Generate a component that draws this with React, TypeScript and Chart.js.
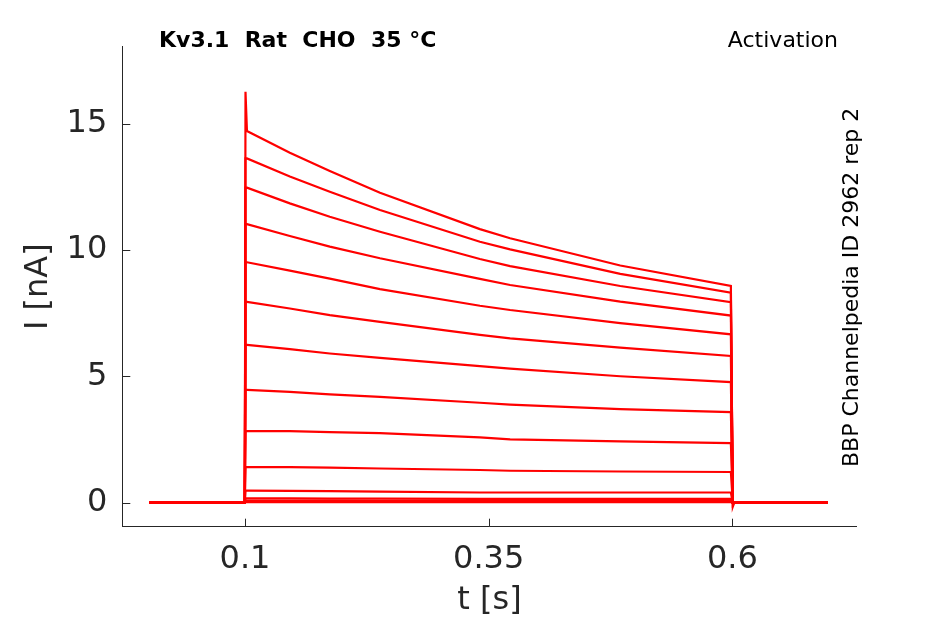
import { useEffect, useRef } from "react";
import { Chart, registerables } from "chart.js";

Chart.register(...registerables);

// sweep timing (s)
const PRE_TIMES = [0.002, 0.0998];
const ONSET_TIME = 0.1005;
const BODY_TIMES = [0.102, 0.146, 0.187, 0.2385, 0.341, 0.372, 0.485, 0.5985];
const OFFSET_TIMES = [0.6005, 0.602, 0.698];

// current during the step (nA), one row per sweep, read at BODY_TIMES
const SWEEPS = [
  [14.7, 13.84, 13.12, 12.26, 10.82, 10.46, 9.38, 8.57],
  [13.62, 12.9, 12.3, 11.58, 10.32, 10.02, 9.05, 8.31],
  [12.46, 11.84, 11.31, 10.72, 9.64, 9.36, 8.57, 7.93],
  [11.02, 10.55, 10.13, 9.67, 8.85, 8.61, 7.95, 7.4],
  [9.51, 9.18, 8.86, 8.45, 7.79, 7.62, 7.1, 6.66],
  [7.94, 7.68, 7.42, 7.15, 6.64, 6.5, 6.13, 5.8],
  [6.24, 6.07, 5.9, 5.73, 5.4, 5.3, 5.0, 4.77],
  [4.46, 4.38, 4.28, 4.18, 3.95, 3.88, 3.7, 3.58],
  [2.83, 2.83, 2.79, 2.75, 2.58, 2.5, 2.42, 2.35],
  [1.4, 1.4, 1.38, 1.35, 1.29, 1.26, 1.23, 1.21],
  [0.47, 0.46, 0.45, 0.43, 0.4, 0.4, 0.4, 0.4],
  [0.17, 0.17, 0.16, 0.16, 0.15, 0.15, 0.15, 0.15],
  [0.08, 0.08, 0.08, 0.07, 0.07, 0.07, 0.07, 0.07],
  [0.02, 0.02, 0.02, 0.02, 0.02, 0.02, 0.02, 0.02],
];
const ONSET_PEAKS = [16.26, 13.62, 12.46, 11.02, 9.51, 7.94, 6.24, 4.46, 2.83, 1.4, 0.47, 0.17, 0.08, 0.02];
const OFFSET_DIPS = [-0.16, -0.08, 0, 0, 0, 0, 0, 0, 0, 0, 0, 0, 0, 0];

const X_TICKS = [0.1, 0.35, 0.6];
const Y_TICKS = [0, 5, 10, 15];

const TITLE = "Kv3.1  Rat  CHO  35 °C";
const PROTOCOL = "Activation";
const SOURCE = "BBP Channelpedia ID 2962 rep 2";

const INK = "#262626";
const FONT = "'DejaVu Sans', sans-serif";

const decor = {
  id: "decor",
  afterDraw(chart: Chart) {
    const { ctx, chartArea: a, scales } = chart;
    ctx.save();
    // inward ticks
    ctx.strokeStyle = INK;
    ctx.lineWidth = 1;
    ctx.beginPath();
    for (const v of Y_TICKS) {
      const y = Math.round(scales.y.getPixelForValue(v)) + 0.5;
      ctx.moveTo(a.left, y);
      ctx.lineTo(a.left + 8, y);
    }
    for (const v of X_TICKS) {
      const x = Math.round(scales.x.getPixelForValue(v)) + 0.5;
      ctx.moveTo(x, a.bottom);
      ctx.lineTo(x, a.bottom - 8);
    }
    ctx.stroke();

    ctx.fillStyle = "#000";
    ctx.textBaseline = "alphabetic";
    ctx.font = `bold 22px ${FONT}`;
    ctx.textAlign = "left";
    ctx.fillText(TITLE, 159, 46.7);
    ctx.font = `22px ${FONT}`;
    ctx.textAlign = "right";
    ctx.fillText(PROTOCOL, 838, 46.7);
    ctx.translate(858, 467);
    ctx.rotate(-Math.PI / 2);
    ctx.textAlign = "left";
    ctx.fillText(SOURCE, 0, 0);
    ctx.restore();
  },
};

export default function App() {
  const canvasRef = useRef<HTMLCanvasElement>(null);

  useEffect(() => {
    if (!canvasRef.current) return;
    Chart.defaults.font.family = FONT;

    const datasets = SWEEPS.map((sweep, i) => ({
      data: [
        ...PRE_TIMES.map((t) => ({ x: t, y: 0 })),
        { x: ONSET_TIME, y: ONSET_PEAKS[i] },
        ...BODY_TIMES.map((t, j) => ({ x: t, y: sweep[j] })),
        { x: OFFSET_TIMES[0], y: OFFSET_DIPS[i] },
        ...OFFSET_TIMES.slice(1).map((t) => ({ x: t, y: 0 })),
      ],
      borderColor: "#ff0000",
      borderWidth: 2.2,
      pointRadius: 0,
      tension: 0,
      fill: false,
    }));

    const chart = new Chart(canvasRef.current, {
      type: "line",
      data: { datasets },
      options: {
        animation: false,
        responsive: false,
        layout: { padding: { top: 46.7, right: 88.3, left: 0, bottom: 0 } },
        plugins: { legend: { display: false }, tooltip: { enabled: false } },
        scales: {
          x: {
            type: "linear",
            min: -0.0259,
            max: 0.7276,
            afterBuildTicks: (s) => {
              s.ticks = X_TICKS.map((value) => ({ value }));
            },
            afterFit: (s) => {
              s.height = 97.3;
            },
            ticks: {
              color: INK,
              font: { size: 32 },
              padding: 14,
              maxRotation: 0,
              callback: (v) => String(v),
            },
            grid: { display: true, drawOnChartArea: false, drawTicks: false },
            border: { display: true, color: INK, width: 1 },
            title: { display: true, text: "t [s]", color: INK, font: { size: 32 }, padding: { top: 0, bottom: 4 } },
          },
          y: {
            type: "linear",
            min: -0.954,
            max: 18.04,
            afterBuildTicks: (s) => {
              s.ticks = Y_TICKS.map((value) => ({ value }));
            },
            afterFit: (s) => {
              s.width = 122.3;
            },
            ticks: { color: INK, font: { size: 32 }, padding: 15 },
            grid: { display: true, drawOnChartArea: false, drawTicks: false },
            border: { display: true, color: INK, width: 1 },
            title: { display: true, text: "I [nA]", color: INK, font: { size: 32 }, padding: { top: 19, bottom: 0 } },
          },
        },
      },
      plugins: [decor],
    });

    return () => chart.destroy();
  }, []);

  return (
    <div style={{ position: "absolute", left: 0, top: 0, width: 945, height: 624, background: "#fff" }}>
      <canvas ref={canvasRef} width={945} height={624} />
    </div>
  );
}
